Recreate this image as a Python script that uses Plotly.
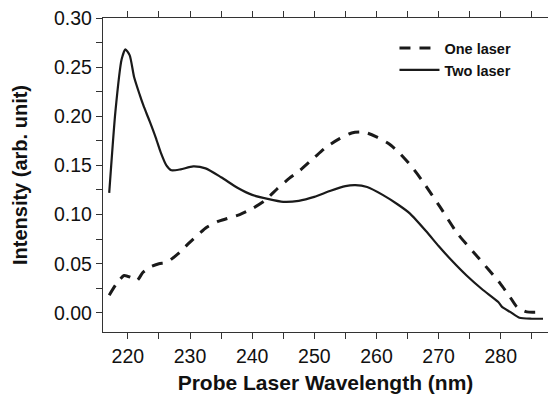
import plotly.graph_objects as go

# Wavelength (nm) and intensity values
two_x = [217.0, 218.0, 219.0, 219.6, 220.3, 221.0, 221.9, 222.5, 223.5, 224.5, 225.3, 226.2, 227.0, 228.5, 230.5, 232.5, 235.0, 237.7, 240.0, 242.5, 245.0, 247.5, 250.0, 252.5, 255.0, 256.6, 258.5, 261.0, 263.5, 265.4, 268.0, 270.0, 272.0, 274.5, 277.0, 279.6, 280.2, 281.5, 283.0, 285.0, 286.8]
two_y = [0.122, 0.205, 0.258, 0.268, 0.262, 0.240, 0.222, 0.211, 0.195, 0.178, 0.163, 0.150, 0.145, 0.146, 0.149, 0.147, 0.138, 0.127, 0.120, 0.116, 0.113, 0.114, 0.118, 0.124, 0.129, 0.130, 0.128, 0.120, 0.110, 0.101, 0.083, 0.068, 0.054, 0.038, 0.024, 0.011, 0.006, 0.001, -0.005, -0.006, -0.006]

one_x = [217.0, 218.2, 219.4, 220.5, 221.5, 222.4, 223.7, 225.0, 226.2, 227.3, 228.4, 230.0, 232.7, 234.5, 236.0, 238.0, 240.0, 242.0, 244.0, 246.0, 247.7, 250.0, 252.0, 254.0, 256.0, 257.3, 258.5, 260.0, 262.0, 263.8, 265.5, 267.3, 270.2, 273.0, 276.4, 279.9, 281.5, 282.6, 284.2, 286.8]
one_y = [0.018, 0.030, 0.038, 0.036, 0.033, 0.041, 0.047, 0.050, 0.051, 0.056, 0.062, 0.072, 0.087, 0.093, 0.096, 0.100, 0.106, 0.114, 0.126, 0.137, 0.145, 0.158, 0.169, 0.177, 0.183, 0.184, 0.183, 0.179, 0.172, 0.162, 0.150, 0.135, 0.108, 0.081, 0.056, 0.030, 0.016, 0.006, 0.001, 0.001]

x_ticks = [220, 230, 240, 250, 260, 270, 280]
y_ticks = [0.00, 0.05, 0.10, 0.15, 0.20, 0.25, 0.30]

fig = go.Figure()
fig.add_trace(go.Scatter(x=one_x, y=one_y, mode="lines", name="One laser",
                         line=dict(color="#1a1a1a", width=3, dash="11px,9px", shape="spline", smoothing=0.6)))
fig.add_trace(go.Scatter(x=two_x, y=two_y, mode="lines", name="Two laser",
                         line=dict(color="#1a1a1a", width=2.2, shape="spline", smoothing=0.6)))

font_family = "Liberation Sans, Arial, sans-serif"
fig.update_layout(
    width=548, height=397,
    margin=dict(l=103, r=0, t=18, b=65),
    paper_bgcolor="white", plot_bgcolor="white",
    font=dict(family=font_family, color="#111111"),
    showlegend=True,
    legend=dict(x=0.655, y=0.955, xanchor="left", yanchor="top",
                font=dict(size=14.5, family=font_family, color="#111111", weight="bold"),
                bgcolor="rgba(0,0,0,0)", itemwidth=40, tracegroupgap=0),
    xaxis=dict(range=[216.0, 287.6], tickvals=x_ticks, ticks="outside", ticklen=6, tickwidth=1.3,
               tickcolor="#333", showline=True, linecolor="#333", linewidth=1.3, mirror="ticks",
               showgrid=False, zeroline=False,
               minor=dict(dtick=5, tick0=215, ticks="outside", ticklen=6, tickwidth=1.3, tickcolor="#333"),
               tickfont=dict(size=19.5, family=font_family, color="#111111"),
               title=dict(text="<b>Probe Laser Wavelength (nm)</b>", font=dict(size=21), standoff=9)),
    yaxis=dict(range=[-0.0195, 0.30], tickvals=y_ticks, tickformat=".2f", ticks="outside", ticklen=6,
               tickwidth=1.3, tickcolor="#333", showline=True, linecolor="#333", linewidth=1.3,
               showgrid=False, zeroline=False,
               minor=dict(dtick=0.025, tick0=0, ticks="outside", ticklen=6, tickwidth=1.3, tickcolor="#333"),
               tickfont=dict(size=19.5, family=font_family, color="#111111"),
               title=dict(text="<b>Intensity (arb. unit)</b>", font=dict(size=20), standoff=20)),
)

fig.write_html("out.html")
